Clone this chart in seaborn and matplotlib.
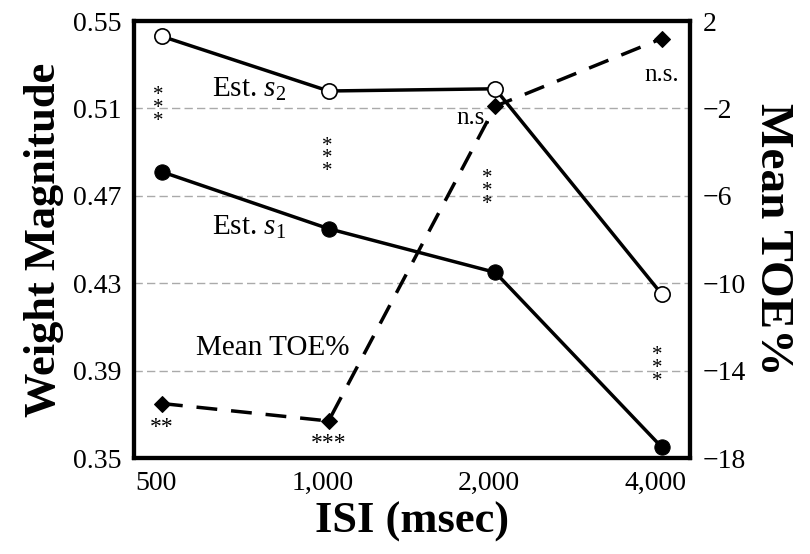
import numpy as np
import pandas as pd
import seaborn as sns
import matplotlib.pyplot as plt
import matplotlib.transforms as mtrans

# --- data ---
isi_labels = ["500", "1,000", "2,000", "4,000"]
est_s1 = [0.481, 0.455, 0.435, 0.355]
est_s2 = [0.543, 0.518, 0.519, 0.425]
mean_toe = [-15.5, -16.3, -1.9, 1.2]

# significance marks (s1 vs s2 per ISI, and TOE per ISI)
weight_sig = ["*\n*\n*", "*\n*\n*", "*\n*\n*", "*\n*\n*"]
weight_sig_y = [0.510, 0.487, 0.472, 0.391]
toe_sig = ["**", "***", "n.s.", "n.s."]

sns.set_theme(style="white")
plt.rcParams['font.family'] = ['Liberation Serif', 'DejaVu Serif']
plt.rcParams['mathtext.fontset'] = 'custom'
plt.rcParams['mathtext.it'] = 'Liberation Serif:italic'
plt.rcParams['mathtext.rm'] = 'Liberation Serif'
plt.rcParams.update({"text.color": "black", "axes.labelcolor": "black",
                     "xtick.color": "black", "ytick.color": "black"})

df = pd.DataFrame({"pos": np.arange(len(isi_labels)), "s1": est_s1, "s2": est_s2, "toe": mean_toe})

fig = plt.figure(figsize=(8.1, 5.54), dpi=100)
ax = fig.add_axes([0.165, 0.173, 0.687, 0.789])
ax2 = ax.twinx()

# --- gridlines ---
for yv in [0.51, 0.47, 0.43, 0.39]:
    ax.axhline(yv, color="#aaaaaa", lw=1, ls=(0, (6, 3)), zorder=0)

# --- weight lines ---
sns.lineplot(data=df, x="pos", y="s1", ax=ax, color="black", lw=2.5, marker="o",
             markersize=11, markerfacecolor="black", markeredgecolor="black", zorder=3)
sns.lineplot(data=df, x="pos", y="s2", ax=ax, color="black", lw=2.5, marker="o",
             markersize=11, markerfacecolor="white", markeredgecolor="black",
             markeredgewidth=1.2, zorder=3)

# --- TOE line ---
sns.lineplot(data=df, x="pos", y="toe", ax=ax2, color="black", lw=2.5, marker="D",
             markersize=8, markerfacecolor="black", markeredgecolor="black", zorder=3)
ax2.lines[0].set_dashes([6, 4])

ax.set_xlim(-0.17, 3.17)
ax.set_ylim(0.35, 0.55)
ax2.set_ylim(-18, 2)
ax.set_xticks(df["pos"])
ax.set_xticklabels(isi_labels)
ax.set_yticks([0.35, 0.39, 0.43, 0.47, 0.51, 0.55])
ax.set_yticklabels(["0.35", "0.39", "0.43", "0.47", "0.51", "0.55"])
ax2.set_yticks([-18, -14, -10, -6, -2, 2])
ax2.set_yticklabels(["\u221218", "\u221214", "\u221210", "\u22126", "\u22122", "2"])

ax.tick_params(axis="both", length=0, labelsize=20, pad=9, labelcolor="black")
ax2.tick_params(axis="y", length=0, labelsize=20, pad=9, labelcolor="black")
shift = mtrans.ScaledTranslation(-6 / 100, 0, fig.dpi_scale_trans)
for lab in ax.get_xticklabels():
    lab.set_transform(lab.get_transform() + shift)

for a in (ax, ax2):
    for sp in a.spines.values():
        sp.set_linewidth(3)
        sp.set_color("black")

ax.set_xlabel("ISI (msec)", fontsize=32, fontweight="bold", labelpad=4, color="black")
ax.set_ylabel("Weight Magnitude", fontsize=32, fontweight="bold", labelpad=6, color="black")
ax2.set_ylabel("Mean TOE%", fontsize=34, fontweight="bold", rotation=270, labelpad=34, color="black")

# --- series labels ---
ax.text(0.3, 0.5185, r"Est. $s_2$", fontsize=21, ha="left", va="center", color="black")
ax.text(0.3, 0.4555, r"Est. $s_1$", fontsize=21, ha="left", va="center", color="black")
ax.text(0.665, 0.4005, "Mean TOE%", fontsize=21, ha="center", va="center", color="black")

# --- significance marks ---
for i, (s, yv) in enumerate(zip(weight_sig, weight_sig_y)):
    xo = [-0.02, -0.01, -0.05, -0.03][i]
    ax.text(i + xo, yv, s, fontsize=15, ha="center", va="center", linespacing=0.55,
            color="black")

toe_off = [(0.0, -1.1), (0.0, -1.05), (-0.13, -0.55), (0.0, -1.65)]
for i, s in enumerate(toe_sig):
    dx, dy = toe_off[i]
    ax2.text(i + dx, mean_toe[i] + dy, s, fontsize=17 if "*" in s else 18,
             ha="center", va="center", color="black")

fig.savefig("out.png", dpi=100)
